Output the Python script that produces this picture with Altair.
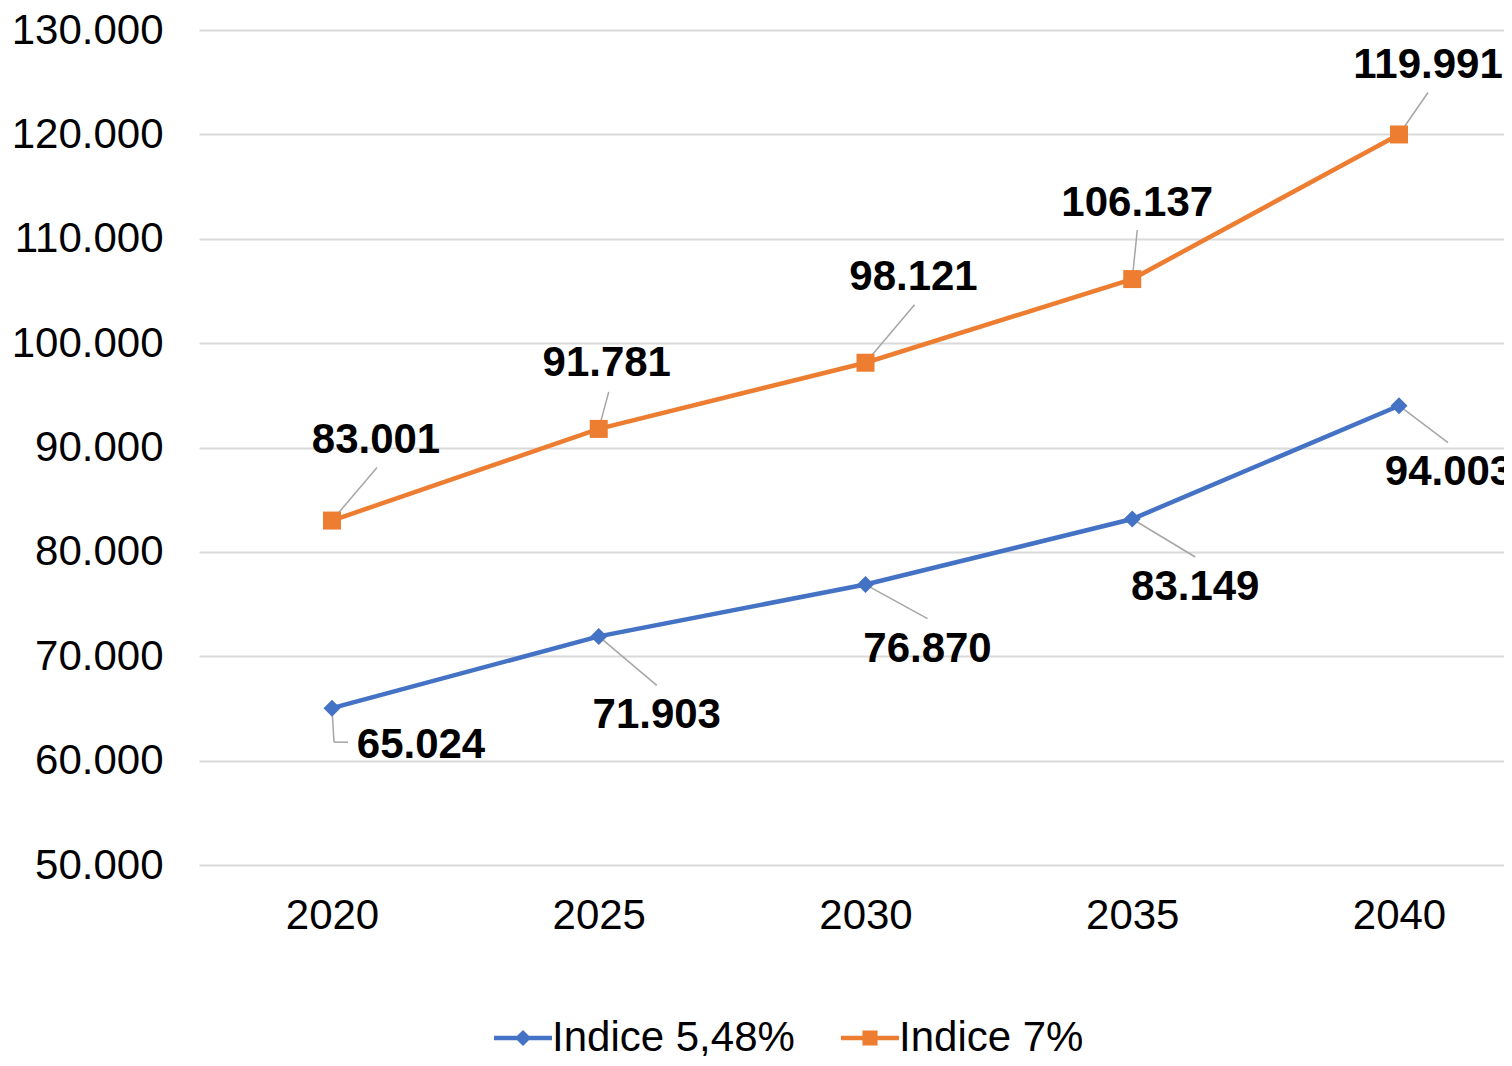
import altair as alt
import pandas as pd

# ---- data ----
years = [2020, 2025, 2030, 2035, 2040]
series_names = ["Indice 5,48%", "Indice 7%"]
values_548 = [65024, 71903, 76870, 83149, 94003]
values_7 = [83001, 91781, 98121, 106137, 119991]
y_ticks = [50000, 60000, 70000, 80000, 90000, 100000, 110000, 120000, 130000]

# ---- styles ----
colors = ["#4472C4", "#ED7D31"]
W, H = 1305, 835
X0, X1 = 2017.507, 2041.968
Y0, Y1 = 50000, 130000
FONT = "Liberation Sans"

# label centre offsets (px) relative to each point
label_off_548 = [(89, 37), (58, 79), (62, 64), (63, 68), (50, 66)]
label_off_7 = [(44, -81), (8, -66), (48, -86), (5, -76), (29, -69)]
# leader polylines (px) relative to each point
leader_548 = [[(0, 0), (2, 34), (16, 34)], [(0, 0), (58, 49)], [(0, 0), (62, 34)],
              [(0, 0), (63, 38)], [(0, 0), (49, 37)]]
leader_7 = [[(0, 0), (45, -53)], [(0, 0), (10, -37)], [(0, 0), (49, -58)],
            [(0, 0), (5, -49)], [(0, 0), (29, -42)]]

ppx = W / (X1 - X0)
ppy = H / (Y1 - Y0)


def fmt(v):
    return f"{v:,}".replace(",", ".")


pts, labs, segs = [], [], []
for name, vals, marker, loffs, leads in [
    (series_names[0], values_548, "d", label_off_548, leader_548),
    (series_names[1], values_7, "s", label_off_7, leader_7),
]:
    for yr, v, (dx, dy), poly in zip(years, vals, loffs, leads):
        pts.append({"year": yr, "value": v, "series": name, "marker": marker})
        labs.append({"lx": yr + dx / ppx, "ly": v - dy / ppy, "text": fmt(v)})
        for (ax, ay), (bx, by) in zip(poly[:-1], poly[1:]):
            segs.append({"x": yr + ax / ppx, "y": v - ay / ppy,
                         "x2": yr + bx / ppx, "y2": v - by / ppy})

df = pd.DataFrame(pts)
df_lab = pd.DataFrame(labs)
df_seg = pd.DataFrame(segs)

xs = alt.Scale(domain=[X0, X1], nice=False, zero=False)
ys = alt.Scale(domain=[Y0, Y1], nice=False, zero=False)
cs = alt.Scale(domain=series_names, range=colors)

x_axis = alt.Axis(values=years, format="d", grid=False, domain=False, ticks=False,
                  labelPadding=30, title=None)
y_axis = alt.Axis(values=y_ticks, grid=True, domain=False, ticks=False, labelPadding=36,
                  title=None, labelExpr="replace(format(datum.value, ','), ',', '.')")

leaders = alt.Chart(df_seg).mark_rule(color="#a6a6a6", strokeWidth=1.5).encode(
    x=alt.X("x:Q", scale=xs, axis=x_axis),
    y=alt.Y("y:Q", scale=ys, axis=y_axis),
    x2="x2:Q",
    y2="y2:Q",
)

lines = alt.Chart(df).mark_line(strokeWidth=4.5).encode(
    x=alt.X("year:Q", scale=xs),
    y=alt.Y("value:Q", scale=ys),
    color=alt.Color("series:N", scale=cs, legend=None),
)

points = alt.Chart(df).mark_point(filled=True, opacity=1).encode(
    x=alt.X("year:Q", scale=xs),
    y=alt.Y("value:Q", scale=ys),
    color=alt.Color("series:N", scale=cs, legend=None),
    shape=alt.Shape("marker:N", scale=alt.Scale(domain=["d", "s"], range=["diamond", "square"]), legend=None),
    size=alt.Size("marker:N", scale=alt.Scale(domain=["d", "s"], range=[289, 324]), legend=None),
)

labels = alt.Chart(df_lab).mark_text(font=FONT, fontSize=42, fontWeight="bold", color="black",
                                     baseline="middle", align="center").encode(
    x=alt.X("lx:Q", scale=xs),
    y=alt.Y("ly:Q", scale=ys),
    text="text:N",
)

leg_paths = [
    "M-1,-0.075L1,-0.075L1,0.075L-1,0.075Z M0,-0.28L0.28,0L0,0.28L-0.28,0Z",
    "M-1,-0.075L1,-0.075L1,0.075L-1,0.075Z M-0.26,-0.26L0.26,-0.26L0.26,0.26L-0.26,0.26Z",
]
legend_layer = alt.Chart(df).mark_point(filled=True, opacity=1).encode(
    x=alt.X("year:Q", scale=xs),
    y=alt.Y("value:Q", scale=ys),
    color=alt.Color("series:N", scale=cs, legend=alt.Legend(
        orient="none", direction="horizontal", legendX=295, legendY=979, title=None,
        symbolSize=3364, symbolStrokeWidth=0, labelFont=FONT, labelFontSize=42,
        labelColor="black", labelOffset=0, columnPadding=46, labelLimit=400)),
    shape=alt.Shape("series:N", scale=alt.Scale(domain=series_names, range=leg_paths),
                    legend=alt.Legend(orient="none", direction="horizontal", legendX=295,
                                      legendY=979, title=None)),
).transform_filter("false")

chart = alt.layer(leaders, lines, points, labels, legend_layer).resolve_scale(
    color="independent", shape="independent", size="independent"
).resolve_legend(color="independent", shape="independent").properties(
    width=W, height=H,
    autosize=alt.AutoSizeParams(type="none"),
    padding={"left": 191, "top": 22, "right": 0, "bottom": 191},
).configure_view(stroke=None).configure_axis(
    labelFont=FONT, labelFontSize=42, labelColor="black",
    gridColor="#d9d9d9", gridWidth=2,
)

chart.save("out.html", embed_options={"renderer": "svg", "actions": False})
